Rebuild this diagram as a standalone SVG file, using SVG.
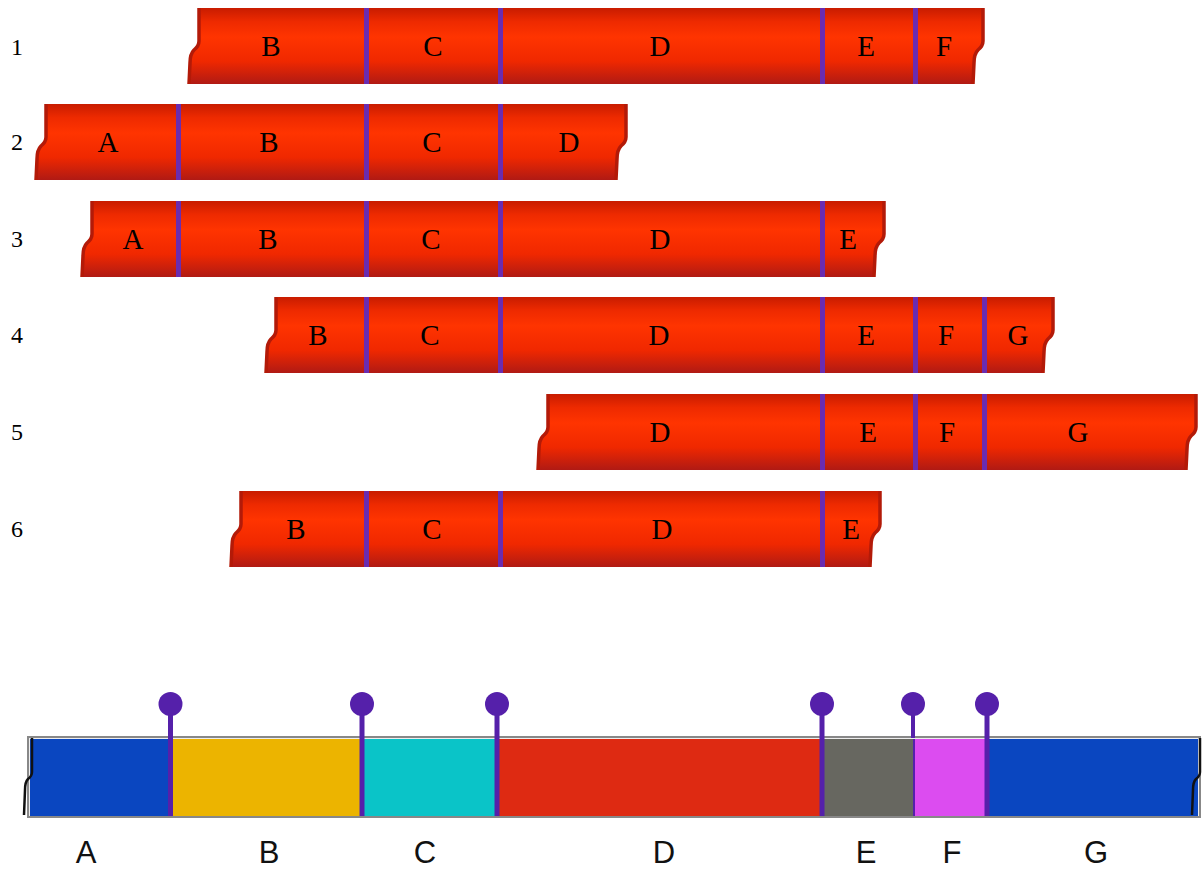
<svg xmlns="http://www.w3.org/2000/svg" width="1204" height="873" viewBox="0 0 1204 873">
<defs>
<linearGradient id="red" x1="0" y1="0" x2="0" y2="1">
<stop offset="0" stop-color="#c81c00"/>
<stop offset="0.18" stop-color="#ee2a00"/>
<stop offset="0.38" stop-color="#ff3400"/>
<stop offset="0.7" stop-color="#f02800"/>
<stop offset="1" stop-color="#b01a14"/>
</linearGradient>
</defs>
<style>
.bar{fill:url(#red);stroke:none}
.edge{fill:none;stroke:#b31a08;stroke-width:3.5}
.div{fill:#6a2cb0}
.lbl{font-family:"Liberation Serif",serif;font-size:29px;fill:#000;text-anchor:middle;dominant-baseline:central}
.num{font-family:"Liberation Serif",serif;font-size:24px;fill:#000;text-anchor:middle;dominant-baseline:central}
.blbl{font-family:"Liberation Sans",sans-serif;font-size:31px;fill:#111;text-anchor:middle;dominant-baseline:central}
.pin{fill:#5520aa}
.seg{stroke:none}
</style>

<g id="row1">
<path class="bar" d="M199,8 L983,8 L983,41 Q983,46 978,50 Q974,54 974,63 L973,84 L189,84 L190,63 Q190,54 194,50 Q199,46 199,41 Z"/>
<path class="edge" d="M199,8 L199,41 Q199,46 194,50 Q190,54 190,63 L189,84 M983,8 L983,41 Q983,46 978,50 Q974,54 974,63 L973,84"/>
<rect class="div" x="364" y="8" width="5" height="76"/>
<rect class="div" x="498" y="8" width="5" height="76"/>
<rect class="div" x="820" y="8" width="5" height="76"/>
<rect class="div" x="913" y="8" width="5" height="76"/>
<text class="num" x="17" y="47">1</text>
<text class="lbl" x="271" y="46">B</text>
<text class="lbl" x="433" y="46">C</text>
<text class="lbl" x="660" y="46">D</text>
<text class="lbl" x="866" y="46">E</text>
<text class="lbl" x="944" y="46">F</text>
</g>

<g id="row2">
<path class="bar" d="M46,104 L626,104 L626,137 Q626,142 621,146 Q617,150 617,159 L616,180 L36,180 L37,159 Q37,150 41,146 Q46,142 46,137 Z"/>
<path class="edge" d="M46,104 L46,137 Q46,142 41,146 Q37,150 37,159 L36,180 M626,104 L626,137 Q626,142 621,146 Q617,150 617,159 L616,180"/>
<rect class="div" x="176" y="104" width="5" height="76"/>
<rect class="div" x="364" y="104" width="5" height="76"/>
<rect class="div" x="498" y="104" width="5" height="76"/>
<text class="num" x="17" y="142">2</text>
<text class="lbl" x="108" y="142">A</text>
<text class="lbl" x="269" y="142">B</text>
<text class="lbl" x="432" y="142">C</text>
<text class="lbl" x="569" y="142">D</text>
</g>

<g id="row3">
<path class="bar" d="M92,201 L884,201 L884,234 Q884,239 879,243 Q875,247 875,256 L874,277 L82,277 L83,256 Q83,247 87,243 Q92,239 92,234 Z"/>
<path class="edge" d="M92,201 L92,234 Q92,239 87,243 Q83,247 83,256 L82,277 M884,201 L884,234 Q884,239 879,243 Q875,247 875,256 L874,277"/>
<rect class="div" x="176" y="201" width="5" height="76"/>
<rect class="div" x="364" y="201" width="5" height="76"/>
<rect class="div" x="498" y="201" width="5" height="76"/>
<rect class="div" x="820" y="201" width="5" height="76"/>
<text class="num" x="17" y="239">3</text>
<text class="lbl" x="133" y="239">A</text>
<text class="lbl" x="268" y="239">B</text>
<text class="lbl" x="431" y="239">C</text>
<text class="lbl" x="660" y="239">D</text>
<text class="lbl" x="848" y="239">E</text>
</g>

<g id="row4">
<path class="bar" d="M276,297 L1053,297 L1053,330 Q1053,335 1048,339 Q1044,343 1044,352 L1043,373 L266,373 L267,352 Q267,343 271,339 Q276,335 276,330 Z"/>
<path class="edge" d="M276,297 L276,330 Q276,335 271,339 Q267,343 267,352 L266,373 M1053,297 L1053,330 Q1053,335 1048,339 Q1044,343 1044,352 L1043,373"/>
<rect class="div" x="364" y="297" width="5" height="76"/>
<rect class="div" x="498" y="297" width="5" height="76"/>
<rect class="div" x="820" y="297" width="5" height="76"/>
<rect class="div" x="913" y="297" width="5" height="76"/>
<rect class="div" x="982" y="297" width="5" height="76"/>
<text class="num" x="17" y="335">4</text>
<text class="lbl" x="318" y="335">B</text>
<text class="lbl" x="430" y="335">C</text>
<text class="lbl" x="659" y="335">D</text>
<text class="lbl" x="866" y="335">E</text>
<text class="lbl" x="946" y="335">F</text>
<text class="lbl" x="1018" y="335">G</text>
</g>

<g id="row5">
<path class="bar" d="M548,394 L1196,394 L1196,427 Q1196,432 1191,436 Q1187,440 1187,449 L1186,470 L538,470 L539,449 Q539,440 543,436 Q548,432 548,427 Z"/>
<path class="edge" d="M548,394 L548,427 Q548,432 543,436 Q539,440 539,449 L538,470 M1196,394 L1196,427 Q1196,432 1191,436 Q1187,440 1187,449 L1186,470"/>
<rect class="div" x="820" y="394" width="5" height="76"/>
<rect class="div" x="913" y="394" width="5" height="76"/>
<rect class="div" x="982" y="394" width="5" height="76"/>
<text class="num" x="17" y="432">5</text>
<text class="lbl" x="660" y="432">D</text>
<text class="lbl" x="868" y="432">E</text>
<text class="lbl" x="947" y="432">F</text>
<text class="lbl" x="1078" y="432">G</text>
</g>

<g id="row6">
<path class="bar" d="M241,491 L880,491 L880,524 Q880,529 875,533 Q871,537 871,546 L870,567 L231,567 L232,546 Q232,537 236,533 Q241,529 241,524 Z"/>
<path class="edge" d="M241,491 L241,524 Q241,529 236,533 Q232,537 232,546 L231,567 M880,491 L880,524 Q880,529 875,533 Q871,537 871,546 L870,567"/>
<rect class="div" x="364" y="491" width="5" height="76"/>
<rect class="div" x="498" y="491" width="5" height="76"/>
<rect class="div" x="820" y="491" width="5" height="76"/>
<text class="num" x="17" y="529">6</text>
<text class="lbl" x="296" y="529">B</text>
<text class="lbl" x="432" y="529">C</text>
<text class="lbl" x="662" y="529">D</text>
<text class="lbl" x="851" y="529">E</text>
</g>

<g id="map">
<rect x="28" y="737" width="1172" height="80" fill="#eeeeee" stroke="#888" stroke-width="2"/>
<rect class="seg" x="30" y="739" width="139" height="77" fill="#0a46c0"/>
<rect class="seg" x="171" y="739" width="189" height="77" fill="#ecb400"/>
<rect class="seg" x="362" y="739" width="133" height="77" fill="#0ac4c8"/>
<rect class="seg" x="497" y="739" width="323" height="77" fill="#de2a12"/>
<rect class="seg" x="822" y="739" width="91" height="77" fill="#676760" stroke="#999" stroke-width="1"/>
<rect class="seg" x="915" y="739" width="70" height="77" fill="#dc4cf0"/>
<rect class="seg" x="987" y="739" width="211" height="77" fill="#0a46c0"/>
<path d="M32,738 L32,772 Q32,776 28,779 Q25,782 25,790 L24,815" fill="none" stroke="#111" stroke-width="2.5"/>
<path d="M1200,738 L1200,772 Q1200,776 1196,779 Q1193,782 1193,790 L1192,815" fill="none" stroke="#111" stroke-width="2.5"/>
<g id="pins">
<rect class="pin" x="168" y="704" width="5" height="112"/>
<circle class="pin" cx="170.5" cy="704" r="12"/>
<rect class="pin" x="359.5" y="704" width="5" height="112"/>
<circle class="pin" cx="362" cy="704" r="12"/>
<rect class="pin" x="494.5" y="704" width="5" height="112"/>
<circle class="pin" cx="497" cy="704" r="12"/>
<rect class="pin" x="819.5" y="704" width="5" height="112"/>
<circle class="pin" cx="822" cy="704" r="12"/>
<rect class="pin" x="911" y="704" width="4" height="34"/>
<rect x="913" y="739" width="2" height="77" fill="#5520aa"/>
<circle class="pin" cx="913" cy="704" r="12"/>
<rect class="pin" x="984.5" y="704" width="5" height="112"/>
<circle class="pin" cx="987" cy="704" r="12"/>
</g>
<text class="blbl" x="86" y="852">A</text>
<text class="blbl" x="269" y="852">B</text>
<text class="blbl" x="425" y="852">C</text>
<text class="blbl" x="664" y="852">D</text>
<text class="blbl" x="866" y="852">E</text>
<text class="blbl" x="952" y="852">F</text>
<text class="blbl" x="1096" y="852">G</text>
</g>
</svg>
